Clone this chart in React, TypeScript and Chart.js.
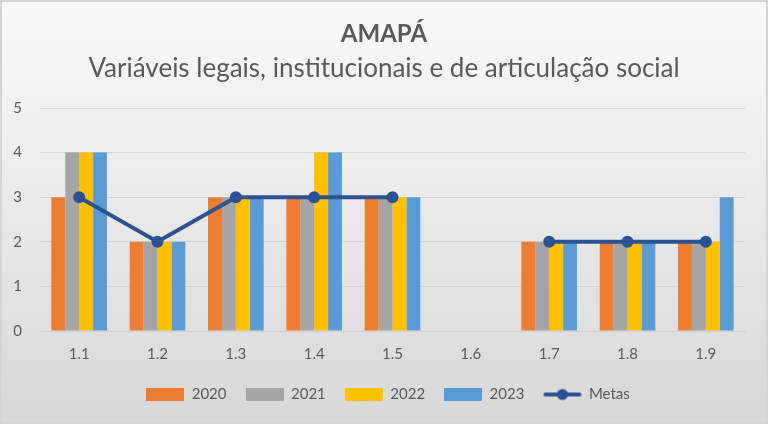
import React, { useEffect, useRef } from "react";
import { Chart, registerables } from "chart.js";

Chart.register(...registerables);

const categories = ["1.1", "1.2", "1.3", "1.4", "1.5", "1.6", "1.7", "1.8", "1.9"];
const s2020 = [3, 2, 3, 3, 3, null, 2, 2, 2];
const s2021 = [4, 2, 3, 3, 3, null, 2, 2, 2];
const s2022 = [4, 2, 3, 4, 3, null, 2, 2, 2];
const s2023 = [4, 2, 3, 4, 3, null, 2, 2, 3];
const metas = [3, 2, 3, 3, 3, null, 2, 2, 2];
const yTicks = [0, 1, 2, 3, 4, 5];

const FONT = "Lato, 'Open Sans', sans-serif";
const TXT = "#595959";
const C2020 = "#ED7D31";
const C2021 = "#A5A5A5";
const C2022 = "#FFC000";
const C2023 = "#5B9BD5";
const CMETA = "#2B5293";

function rectImg(color: string) {
  const c = document.createElement("canvas");
  c.width = 38;
  c.height = 13;
  const g = c.getContext("2d")!;
  g.fillStyle = color;
  g.fillRect(0, 0, 38, 13);
  return c;
}
function lineImg(color: string) {
  const c = document.createElement("canvas");
  c.width = 40;
  c.height = 14;
  const g = c.getContext("2d")!;
  g.strokeStyle = color;
  g.lineWidth = 4;
  g.lineCap = "round";
  g.beginPath();
  g.moveTo(3, 7);
  g.lineTo(37, 7);
  g.stroke();
  g.fillStyle = color;
  g.beginPath();
  g.arc(20, 7, 5.5, 0, Math.PI * 2);
  g.fill();
  return c;
}

const bgPlugin = {
  id: "bgPlugin",
  beforeDraw(chart: any) {
    const { ctx, width, height } = chart;
    ctx.save();
    const grad = ctx.createLinearGradient(0, 0, 0, height);
    grad.addColorStop(0, "#f9f9f9");
    grad.addColorStop(1, "#d8d8d8");
    ctx.fillStyle = grad;
    ctx.fillRect(0, 0, width, height);
    ctx.strokeStyle = "#d4d4d4";
    ctx.lineWidth = 2;
    ctx.strokeRect(1, 1, width - 2, height - 2);
    ctx.restore();
  },
  afterLayout(chart: any) {
    if (chart.legend) {
      chart.legend.left += 4;
      chart.legend.right += 4;
    }
  },
};

export default function App() {
  const ref = useRef<HTMLCanvasElement>(null);
  useEffect(() => {
    document.body.style.margin = "0";
    const barDs = (label: string, data: any[], color: string) => ({
      type: "bar" as const,
      label,
      data,
      backgroundColor: color,
      borderWidth: 0,
      barPercentage: 1,
      categoryPercentage: 0.71,
      order: 2,
    });
    const chart = new Chart(ref.current!, {
      type: "bar",
      data: {
        labels: categories,
        datasets: [
          barDs("2020", s2020, C2020),
          barDs("2021", s2021, C2021),
          barDs("2022", s2022, C2022),
          barDs("2023", s2023, C2023),
          {
            type: "line" as const,
            label: "Metas",
            data: metas,
            borderColor: CMETA,
            backgroundColor: CMETA,
            borderWidth: 4,
            pointRadius: 6,
            pointHoverRadius: 6,
            pointBackgroundColor: CMETA,
            pointBorderWidth: 0,
            spanGaps: false,
            tension: 0,
            order: 1,
          } as any,
        ],
      },
      options: {
        responsive: false,
        animation: false,
        events: [],
        layout: { padding: { left: 23, right: 23, top: 6, bottom: 12 } },
        scales: {
          x: {
            grid: { display: false, drawTicks: false },
            border: { display: true, color: "#d0d0d0", width: 1 },
            ticks: { color: TXT, font: { family: FONT, size: 15 }, padding: 14 },
            afterFit(scale: any) {
              scale.height = scale.height - 9;
            },
          },
          y: {
            min: 0,
            max: 5,
            afterBuildTicks(scale: any) {
              scale.ticks = yTicks.map((v) => ({ value: v }));
            },
            afterFit(scale: any) {
              scale.width = 17;
              scale._computeLabelArea = () => undefined;
            },
            grid: { color: "#d3d3d3", lineWidth: 1, drawTicks: false },
            border: { display: false },
            ticks: { color: TXT, font: { family: FONT, size: 15 }, padding: 18 },
          },
        },
        plugins: {
          title: {
            display: true,
            text: "AMAPÁ",
            color: TXT,
            font: { family: FONT, size: 24, weight: "bold" },
            padding: { top: 14, bottom: 4 },
          },
          subtitle: {
            display: true,
            text: "Variáveis legais, institucionais e de articulação social",
            color: TXT,
            font: { family: FONT, size: 26, weight: "normal" },
            padding: { top: 0, bottom: 24 },
          },
          legend: {
            position: "bottom",
            labels: {
              usePointStyle: true,
              pointStyleWidth: 38,
              boxHeight: 13,
              padding: 19,
              color: TXT,
              font: { family: FONT, size: 15 },
              generateLabels() {
                const items = [
                  ["2020", rectImg(C2020)],
                  ["2021", rectImg(C2021)],
                  ["2022", rectImg(C2022)],
                  ["2023", rectImg(C2023)],
                  ["Metas", lineImg(CMETA)],
                ] as const;
                return items.map(([t, img], i) => ({
                  text: t,
                  pointStyle: img as any,
                  fillStyle: "transparent",
                  strokeStyle: "transparent",
                  lineWidth: 0,
                  fontColor: TXT,
                  hidden: false,
                  datasetIndex: i,
                }));
              },
            },
          },
          tooltip: { enabled: false },
        },
      },
      plugins: [bgPlugin],
    });
    return () => chart.destroy();
  }, []);
  return <canvas ref={ref} width={768} height={424} style={{ display: "block" }} />;
}
